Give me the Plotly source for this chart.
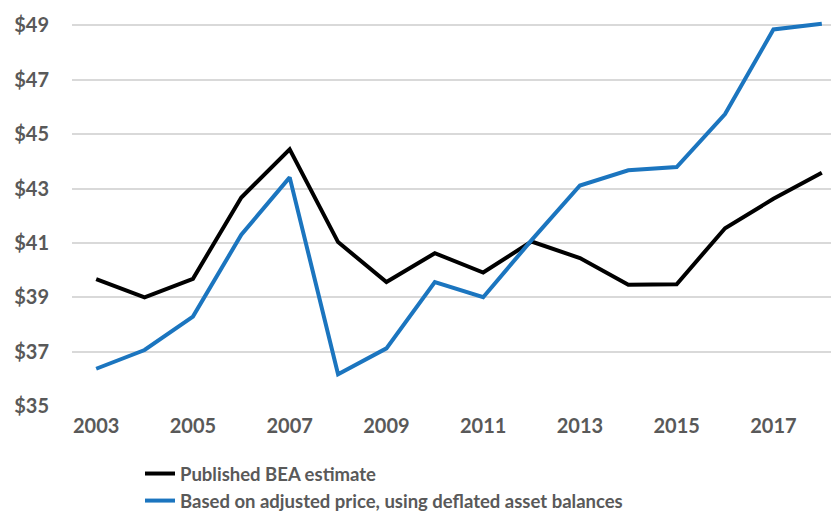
import plotly.graph_objects as go

years = list(range(2003, 2019))
published_bea = [39.67, 39.0, 39.68, 42.67, 44.44, 41.03, 39.56, 40.62, 39.91, 41.05,
                 40.44, 39.46, 39.48, 41.54, 42.62, 43.58]
adjusted_price = [36.37, 37.06, 38.29, 41.30, 43.41, 36.17, 37.12, 39.56, 39.0, 41.1,
                  43.11, 43.67, 43.79, 45.74, 48.85, 49.06]
series_names = ["Published BEA estimate",
                "Based on adjusted price, using deflated asset balances"]
x_ticks = [2003, 2005, 2007, 2009, 2011, 2013, 2015, 2017]
y_ticks = [35, 37, 39, 41, 43, 45, 47, 49]

FONT = "Lato"
GRAY = "#595959"

fig = go.Figure()
fig.add_trace(go.Scatter(x=years, y=published_bea, mode="lines", name=series_names[0],
                         line=dict(color="#000000", width=4)))
fig.add_trace(go.Scatter(x=years, y=adjusted_price, mode="lines", name=series_names[1],
                         line=dict(color="#1B75BF", width=4)))

fig.update_layout(
    width=831, height=512,
    margin=dict(l=71.5, r=0, t=5, b=106, autoexpand=False),
    plot_bgcolor="white", paper_bgcolor="white",
    font=dict(family=FONT, color=GRAY, size=19, weight="bold"),
    showlegend=True,
    legend=dict(x=140 / 831, y=1 - 455 / 512, xref="container", yref="container",
                xanchor="left", yanchor="top",
                orientation="v", bgcolor="rgba(0,0,0,0)",
                font=dict(family=FONT, size=18.5, color=GRAY, weight="bold"),
                tracegroupgap=0, itemwidth=30),
)
fig.update_xaxes(range=[2002.5, 2018.19], tickvals=x_ticks, ticktext=[str(v) for v in x_ticks],
                 showgrid=False, zeroline=False, showline=False, ticks="", automargin=False,
                 ticklabelstandoff=6,
                 tickfont=dict(family=FONT, size=20, color=GRAY, weight="bold"))
fig.update_yaxes(range=[35, 49.75], tickvals=y_ticks, ticktext=["$" + str(v) for v in y_ticks],
                 showgrid=True, gridcolor="#D9D9D9", gridwidth=1.5, zeroline=False,
                 showline=False, ticks="", ticklabelstandoff=22, automargin=False,
                 tickfont=dict(family=FONT, size=20, color=GRAY, weight="bold"))

fig.write_html("out.html")
